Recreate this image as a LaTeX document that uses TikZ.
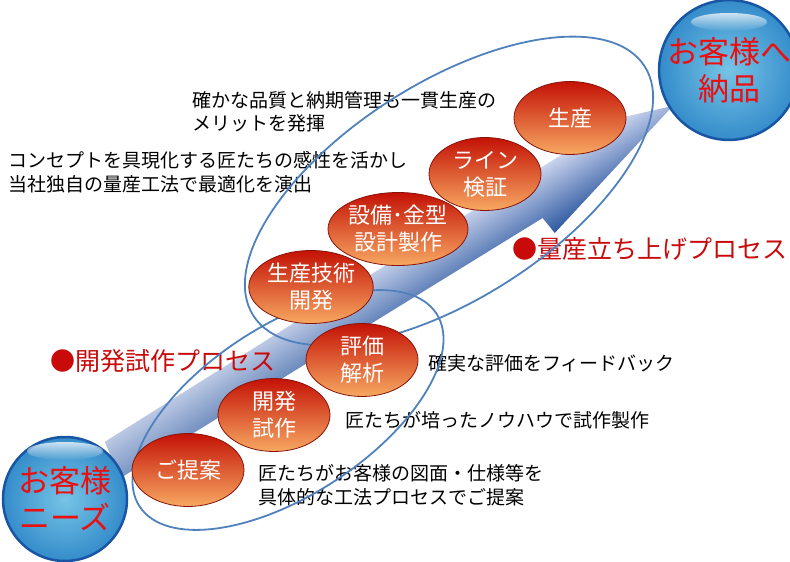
\documentclass[tikz,border=0pt]{standalone}
\usepackage{fontspec}
\setmainfont{Noto Sans CJK JP}
\usetikzlibrary{shapes.geometric,fadings}
\definecolor{bandlight}{RGB}{205,214,240}
\definecolor{banddark}{RGB}{22,70,150}
\definecolor{ringblue}{RGB}{79,129,189}
\definecolor{stepred}{RGB}{196,18,6}
\definecolor{steporange}{RGB}{247,168,98}
\definecolor{stepedge}{RGB}{135,20,10}
\definecolor{ballin}{RGB}{118,196,230}
\definecolor{ballout}{RGB}{52,140,202}
\definecolor{ballrim}{RGB}{25,85,165}
\definecolor{labelred}{RGB}{200,10,10}
\definecolor{ballred}{RGB}{235,15,15}
\newcommand{\bandoutline}{(-3,-25) -- (605,-48) -- (657,-32) -- (491,19) -- (488,0) -- (-8,14) -- cycle}

\begin{document}
\begin{tikzpicture}[x=1pt,y=-1pt,
  stepnode/.style={ellipse, draw=stepedge, line width=0.8pt, top color=stepred, bottom color=steporange,
    minimum width=112pt, minimum height=73pt, text=white, align=center, font=\fontsize{22}{27}\selectfont},
  ballnode/.style={circle, draw=ballrim, line width=2.5pt, inner color=ballin, outer color=ballout,
    minimum size=124pt, text=ballred, align=center, font=\fontsize{31}{37}\selectfont},
  note/.style={anchor=west, align=left, font=\fontsize{19}{23.5}\selectfont},
  process/.style={anchor=west, text=labelred, font=\fontsize{25}{30}\selectfont},
  ring/.style={draw=ringblue, line width=1.8pt}]
\tikzstyle{every node}+=[inner sep=0pt]
\useasboundingbox (0,0) rectangle (790,562);

% big arrow
\coordinate (tail) at (120,462);
\begin{scope}[transform canvas={shift={(tail)}, rotate=30}]
\shade[top color=bandlight, bottom color=banddark] \bandoutline;
\fill[white, fill opacity=0.4, path fading=east] \bandoutline;
\end{scope}

% texts
\node[note] (quality) at (192,112) {確かな品質と納期管理も一貫生産の\\メリットを発揮};
\node[note] (concept) at (8,172) {コンセプトを具現化する匠たちの感性を活かし\\当社独自の量産工法で最適化を演出};
\node[note] (feedback) at (428,363) {確実な評価をフィードバック};
\node[note] (knowhow) at (345,420) {匠たちが培ったノウハウで試作製作};
\node[note] (proposal) at (258,485) {匠たちがお客様の図面・仕様等を\\具体的な工法プロセスでご提案};
\node[process] (devlabel) at (50,361) {●開発試作プロセス};
\node[process] (masslabel) at (512,249) {●量産立ち上げプロセス};

% groups
\draw[ring, rotate around={33:(288,410)}] (288,410) ellipse [x radius=177, y radius=85];
\draw[ring, rotate around={32.5:(449,191)}] (449,191) ellipse [x radius=232, y radius=108];

% steps
\node[stepnode] (teian) at (188,470) {ご提案};
\node[stepnode] (shisaku) at (274,415) {開発\\試作};
\node[stepnode] (hyoka) at (362,360) {評価\\解析};
\node[stepnode] (gijutsu) at (311,287) {生産技術\\開発};
\node[stepnode] (setsubi) at (398,229) {設備･金型\\設計製作};
\node[stepnode] (kensho) at (485,174) {ライン\\検証};
\node[stepnode] (seisan) at (570,118) {生産};

% customers
\node[ballnode] (needs) at (65,499) {お客様\\ニーズ};
\fill[white, fill opacity=0.75, path fading=south] ([yshift=48pt]needs.center) ellipse [x radius=38, y radius=9];
\node[ballnode] (deliver) at (729,70) {お客様へ\\納品};
\fill[white, fill opacity=0.75, path fading=south] ([yshift=48pt]deliver.center) ellipse [x radius=38, y radius=9];
\end{tikzpicture}
\end{document}
